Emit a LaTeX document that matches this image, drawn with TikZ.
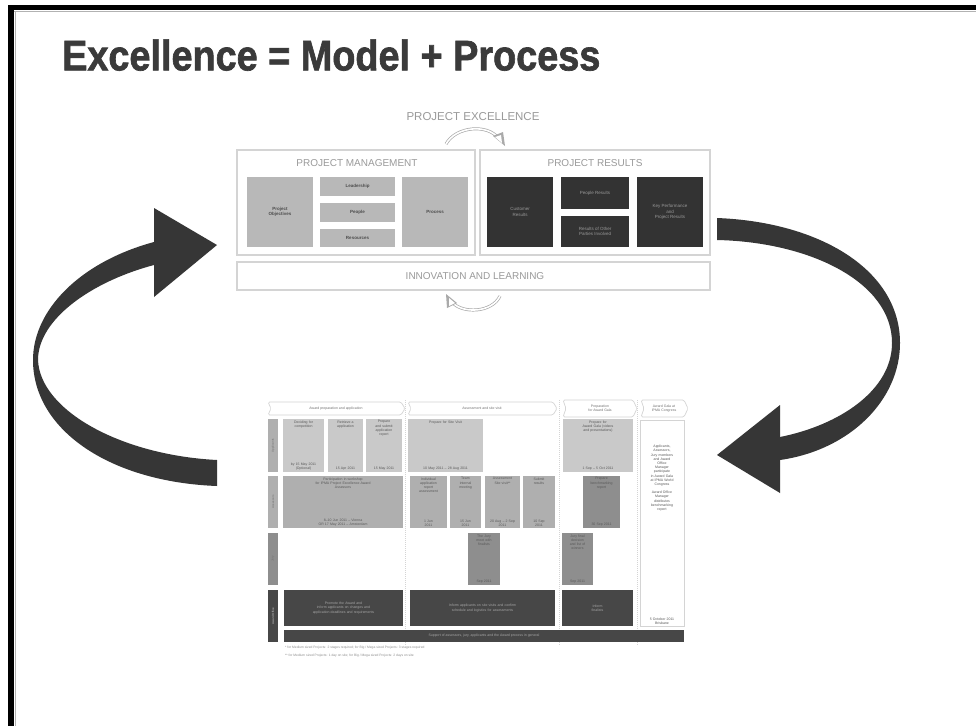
\documentclass[tikz,border=0pt]{standalone}
\usepackage{fontspec}
\setmainfont{Liberation Sans}
\newfontfamily\titlefont{Liberation Sans}[BoldFeatures={FakeBold=1.6}]
\usepackage{graphicx}
\usetikzlibrary{arrows.meta}
\definecolor{titlegray}{HTML}{3A3A3A}
\definecolor{linegray}{HTML}{D4D4D4}
\definecolor{pmfill}{HTML}{B8B8B8}
\definecolor{prfill}{HTML}{333333}
\definecolor{arrowfill}{HTML}{363636}
\definecolor{faint}{HTML}{9A9A9A}
\definecolor{cA}{HTML}{C9C9C9}
\definecolor{cB}{HTML}{AFAFAF}
\definecolor{cC}{HTML}{8E8E8E}
\definecolor{cD}{HTML}{474747}
\tikzset{
  frame/.style={draw=linegray, line width=1.2pt, fill=white},
  pmbox/.style={fill=pmfill, draw=none, inner sep=1pt, font=\fontsize{4.5}{5.2}\selectfont\bfseries, text=black!70, align=center},
  prbox/.style={fill=prfill, draw=none, inner sep=1pt, font=\fontsize{4.5}{5.2}\selectfont, text=black!40, align=center},
  headtxt/.style={font=\fontsize{10}{12}\selectfont, text=faint, inner sep=0},
  cellA/.style={fill=cA, draw=none, inner sep=0},
  cellB/.style={fill=cB, draw=none, inner sep=0},
  cellC/.style={fill=cC, draw=none, inner sep=0},
  cellD/.style={fill=cD, draw=none, inner sep=0},
  cellW/.style={fill=white, draw=linegray, line width=0.6pt, inner sep=0},
  celltxt/.style={font=\fontsize{3.5}{4.2}\selectfont, text=black!65, align=center, inner sep=1.5pt},
  celltxtd/.style={font=\fontsize{3.5}{4.2}\selectfont, text=black!35, align=center, inner sep=1.5pt},
  rowlab/.style={inner sep=0, font=\fontsize{3}{3.5}\selectfont, text=black!55},
  chev/.style={draw=linegray, line width=0.7pt, fill=white, rounded corners=1.5pt},
  chevtxt/.style={font=\fontsize{3.5}{4.1}\selectfont, text=black!55, align=center, inner sep=0},
  cyc/.style={draw=linegray!80!black, line width=0.7pt, double=white, double distance=1.6pt},
  divline/.style={draw=linegray, line width=0.5pt, dash pattern=on 1pt off 1pt},
  foot/.style={font=\fontsize{3.3}{3.9}\selectfont, text=black!45, anchor=west, inner sep=0},
}
\newcommand{\mycell}[7]{%
  \node[#1, minimum width=#4, minimum height=#5] (#2) at (#3) {};
  \node[celltxt, anchor=north, text width=#4-3pt] (#2t) at (#2.north) {#6};
  \node[celltxt, anchor=south, text width=#4-3pt] (#2d) at (#2.south) {#7};}
\newcommand{\mydcell}[5]{%
  \node[cellD, minimum width=#3, minimum height=#4] (#1) at (#2) {};
  \node[celltxtd, text width=#3-6pt] (#1t) at (#2) {#5};}
\begin{document}
\begin{tikzpicture}[x=1pt,y=-1pt]
\useasboundingbox (0,0) rectangle (976,726);
\fill[white] (0,0) rectangle (976,726);
% slide frame
\fill[black] (8,5) rectangle (976,10);
\fill[black] (8,5) rectangle (14,726);
\draw[black!30, line width=0.8pt] (14,11) -- (976,11);
\draw[black!30, line width=0.8pt] (15,11) -- (15,726);

% title
\node[anchor=south west, inner sep=0, text=titlegray] (title) at (62,71)
  {\resizebox{538pt}{31pt}{\titlefont\bfseries Excellence = Model + Process}};

% ===== upper model =====
\node[headtxt, font=\fontsize{11.5}{13}\selectfont] (pe) at (473,117) {PROJECT EXCELLENCE};
\node[frame, minimum width=238pt, minimum height=105pt] (pm) at (356,202.5) {};
\node[frame, minimum width=230pt, minimum height=105pt] (pr) at (595,202.5) {};
\node[frame, minimum width=473pt, minimum height=28pt] (il) at (473.5,276) {};
\node[headtxt] (pmt) at (357,163) {PROJECT MANAGEMENT};
\node[headtxt] (prt) at (595,163) {PROJECT RESULTS};
\node[headtxt] (ilt) at (475,276.5) {INNOVATION AND LEARNING};

\node[pmbox, minimum width=66pt, minimum height=70pt] (obj) at (280,212) {Project\\Objectives};
\node[pmbox, minimum width=75pt, minimum height=19pt] (lead) at (357.5,186.5) {Leadership};
\node[pmbox, minimum width=75pt, minimum height=19pt] (peop) at (357.5,212.5) {People};
\node[pmbox, minimum width=75pt, minimum height=18pt] (res) at (357.5,238) {Resources};
\node[pmbox, minimum width=66pt, minimum height=70pt] (proc) at (435,212) {Process};

\node[prbox, minimum width=66pt, minimum height=70pt] (cust) at (520,212) {Customer\\Results};
\node[prbox, minimum width=68pt, minimum height=32pt] (pres) at (595,193) {People Results};
\node[prbox, minimum width=68pt, minimum height=31pt] (oth) at (595,231.5) {Results of Other\\Parties Involved};
\node[prbox, minimum width=66pt, minimum height=70pt] (key) at (670,212) {Key Performance\\and\\Project Results};

% small cycle arrows
\draw[cyc] (446,144) .. controls (456,126) and (488,124) .. (498,138);
\fill[linegray!80!black] (493,136) -- (505,146) -- (503,132) -- cycle;
\fill[white] (495,137) -- (502,143) -- (501,135) -- cycle;
\draw[cyc] (500,296) .. controls (492,313) and (462,314) .. (452,302);
\fill[linegray!80!black] (457,303) -- (446,294) -- (447,308) -- cycle;
\fill[white] (455,303) -- (449,298) -- (449,306) -- cycle;

% ===== big curved arrows =====
\fill[arrowfill] (154,242) .. controls (80,262) and (33,310) .. (33,360)
   .. controls (33,430) and (110,482) .. (217,486) -- (217,460)
   .. controls (120,455) and (40,410) .. (38,360)
   .. controls (38,320) and (90,282) .. (154,265) -- cycle;
\fill[arrowfill] (154,208) -- (217,245) -- (154,297) -- cycle;

\fill[arrowfill] (717,218) .. controls (820,222) and (900,270) .. (900,343)
   .. controls (900,400) and (850,450) .. (780,460) -- (780,437)
   .. controls (840,425) and (892,390) .. (892,343)
   .. controls (892,282) and (810,242) .. (717,240) -- cycle;
\fill[arrowfill] (780,405) -- (717,455) -- (780,493) -- cycle;

% ===== lower process table =====
\draw[divline] (405.5,400) -- (405.5,645);
\draw[divline] (559,400) -- (559,645);
\draw[divline] (637.5,400) -- (637.5,645);

\draw[chev] (268,402) -- (401,402) -- (405,408.5) -- (401,415) -- (268,415) -- (271,408.5) -- cycle;
\node[chevtxt] (ph1) at (336,408.5) {Award preparation and application};
\draw[chev] (408,402) -- (553,402) -- (557,408.5) -- (553,415) -- (408,415) -- (411,408.5) -- cycle;
\node[chevtxt] (ph2) at (482,408.5) {Assessment and site visit};
\draw[chev] (563,400) -- (633,400) -- (637,408.5) -- (633,417) -- (563,417) -- (566,408.5) -- cycle;
\node[chevtxt] (ph3) at (600,408.5) {Preparation\\for Award Gala};
\draw[chev] (641,400) -- (684,400) -- (688,408.5) -- (684,417) -- (641,417) -- (644,408.5) -- cycle;
\node[chevtxt] (ph4) at (664,408.5) {Award Gala at\\IPMA Congress};

% row labels
\node[fill=cB, minimum width=10pt, minimum height=53pt, inner sep=0] (l1) at (273,445.5) {};
\node[rowlab, rotate=90] (l1t) at (l1.center) {Applicants};
\node[fill=cB, minimum width=10pt, minimum height=52pt, inner sep=0] (l2) at (273,502) {};
\node[rowlab, rotate=90] (l2t) at (l2.center) {Assessors};
\node[fill=cC, minimum width=10pt, minimum height=52pt, inner sep=0] (l3) at (273,559) {};
\node[rowlab, rotate=90] (l3t) at (l3.center) {Jury};
\node[fill=cD, minimum width=10pt, minimum height=52pt, inner sep=0] (l4) at (273,616) {};
\node[rowlab, rotate=90, text=black!25] (l4t) at (l4.center) {Award Office};

% row 1
\mycell{cellA}{ra}{303.5,445.5}{41pt}{53pt}{Deciding for\\competition}{by 15 May 2011\\(Optional)}
\mycell{cellA}{rb}{345.5,445.5}{35pt}{53pt}{Retrieve a\\application}{15 Apr 2011}
\mycell{cellA}{rc}{384,445.5}{36pt}{53pt}{Prepare\\and submit\\application\\report}{15 May 2011}
\mycell{cellA}{rd}{445.5,445.5}{75pt}{53pt}{Prepare for Site Visit}{10 May 2011 -- 28 Aug 2011}
\mycell{cellA}{re}{598,445.5}{70pt}{53pt}{Prepare for\\Award Gala (videos\\and presentations)}{1 Sep -- 5 Oct 2011}
\mycell{cellW}{rw}{662,523}{44pt}{206pt}{\\[22pt]Applicants,\\Assessors,\\Jury members\\and Award\\Office\\Manager\\participate\\in Award Gala\\at IPMA World\\Congress\\[4pt]Award Office\\Manager\\distributes\\benchmarking\\report}{5 October 2011\\Brisbane}

% row 2
\mycell{cellB}{sa}{343,502}{120pt}{52pt}{Participation in workshop\\for IPMA Project Excellence Award\\Assessors}{8--10 Jun 2011 -- Vienna\\OR 17 May 2011 -- Amsterdam}
\mycell{cellB}{sb}{428.5,502}{37pt}{52pt}{Individual\\application\\report\\assessment}{1 Jun\\2011}
\mycell{cellB}{sc}{465.5,502}{31pt}{52pt}{Team\\internal\\meeting}{15 Jun\\2011}
\mycell{cellB}{sd}{502.5,502}{35pt}{52pt}{Assessment\\Site visit**}{20 Aug -- 2 Sep\\2011}
\mycell{cellB}{se}{539,502}{32pt}{52pt}{Submit\\results}{10 Sep\\2011}
\mycell{cellC}{sf}{601.5,502}{37pt}{52pt}{Prepare\\benchmarking\\report}{30 Sep 2011}

% row 3
\mycell{cellC}{ta}{484,559}{32pt}{52pt}{The Jury\\meet with\\finalists}{Sep 2011}
\mycell{cellC}{tb}{577.5,559}{31pt}{52pt}{Jury final\\decision\\and list of\\winners}{Sep 2011}

% row 4
\mydcell{ua}{343.5,608}{119pt}{36pt}{Promote the Award and\\inform applicants on changes and\\application deadlines and requirements}
\mydcell{ub}{482.5,608}{145pt}{36pt}{Inform applicants on site visits and confirm\\schedule and logistics for assessments}
\mydcell{uc}{597.5,608}{71pt}{36pt}{Inform\\finalists}
\node[cellD, minimum width=400pt, minimum height=12pt] (supbar) at (484,636) {};
\node[celltxtd] (supbart) at (484,636) {Support of assessors, jury, applicants and the Award process in general};

% footnotes
\node[foot] (f1) at (285,648) {* for Medium sized Projects: 2 stages required; for Big / Mega sized Projects: 3 stages required};
\node[foot] (f2) at (285,656) {** for Medium sized Projects: 1 day on site; for Big / Mega sized Projects: 2 days on site};
\end{tikzpicture}
\end{document}
